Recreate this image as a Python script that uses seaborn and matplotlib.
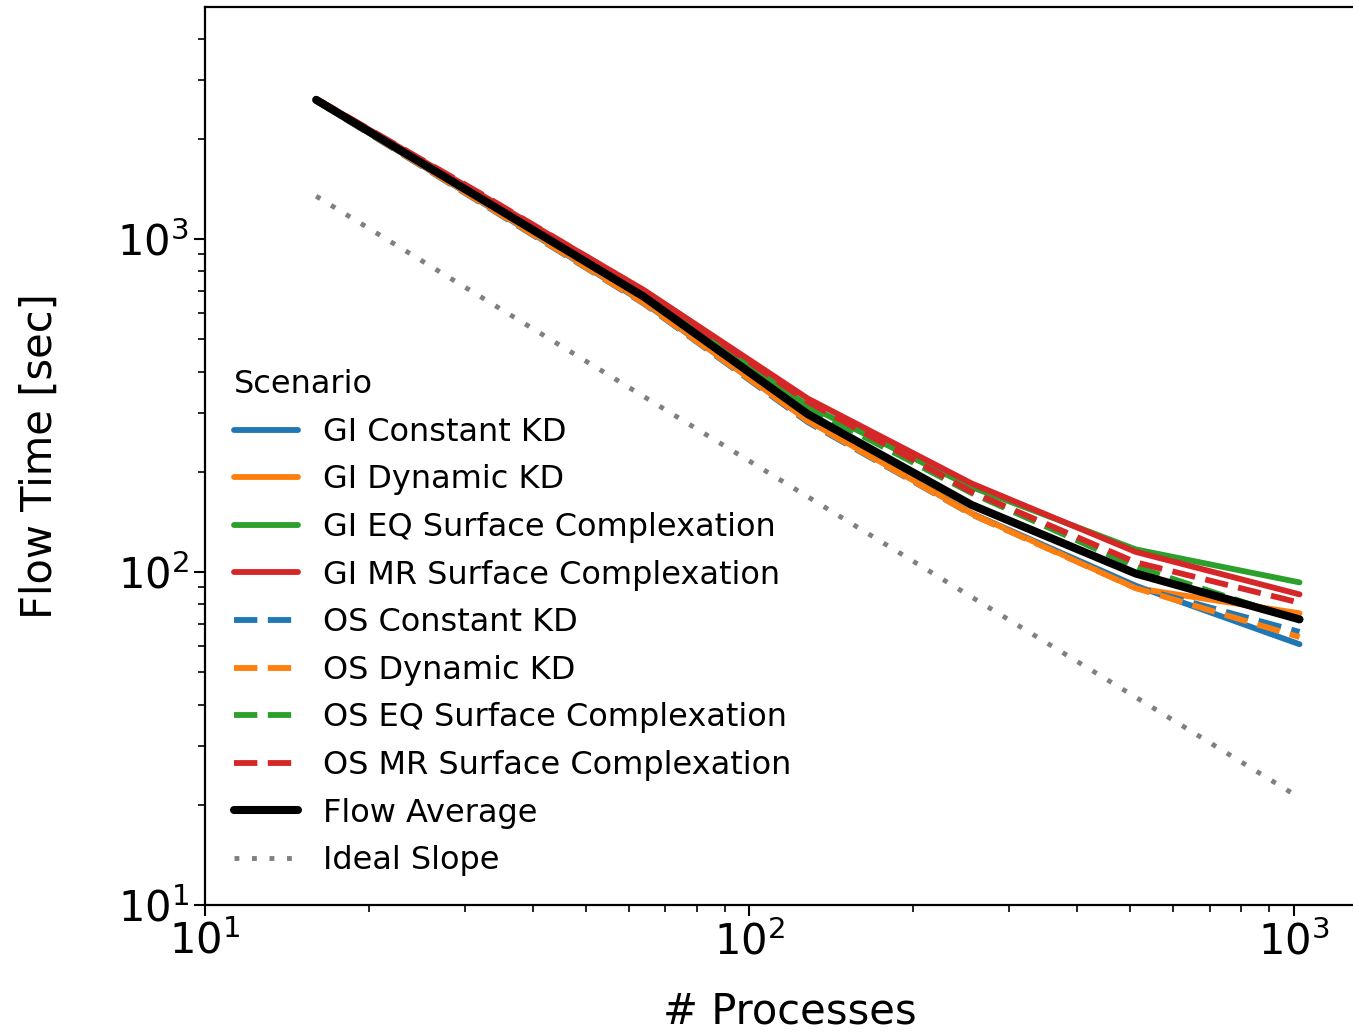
import numpy as np
import pandas as pd
import matplotlib
matplotlib.use("Agg")
import matplotlib.pyplot as plt
import seaborn as sns

# Number of MPI processes used in the strong-scaling runs
processes = [16, 32, 64, 128, 256, 512, 1024]

# Flow solve wall time [sec] for each coupling scenario
gi_constant_kd = [2610, 1300, 645, 286, 150, 91.0, 60.7]
gi_dynamic_kd = [2615, 1305, 648, 285, 150, 89.5, 75.2]
gi_eq_surface = [2630, 1340, 688, 316, 180, 117.0, 93.1]
gi_mr_surface = [2640, 1365, 703, 332, 184.5, 115.0, 85.7]
os_constant_kd = [2605, 1290, 640, 282, 149, 90.0, 66.1]
os_dynamic_kd = [2610, 1295, 642, 284, 149, 89.5, 63.8]
os_eq_surface = [2630, 1345, 690, 312, 172.6, 103.8, 71.5]
os_mr_surface = [2640, 1374, 700, 325, 174, 107.0, 80.9]
flow_average = [2620, 1328, 671, 298, 159, 99.0, 72.1]
ideal_slope = [1346, 673, 336.5, 168.3, 84.1, 42.1, 21.0]

scenarios = [
    "GI Constant KD", "GI Dynamic KD", "GI EQ Surface Complexation",
    "GI MR Surface Complexation", "OS Constant KD", "OS Dynamic KD",
    "OS EQ Surface Complexation", "OS MR Surface Complexation",
    "Flow Average", "Ideal Slope",
]
series = [
    gi_constant_kd, gi_dynamic_kd, gi_eq_surface, gi_mr_surface,
    os_constant_kd, os_dynamic_kd, os_eq_surface, os_mr_surface,
    flow_average, ideal_slope,
]

df = pd.concat(
    [pd.DataFrame({"Processes": processes, "Flow Time": vals, "Scenario": name})
     for name, vals in zip(scenarios, series)],
    ignore_index=True,
)

tab = sns.color_palette("tab10")
palette = {
    "GI Constant KD": tab[0], "GI Dynamic KD": tab[1],
    "GI EQ Surface Complexation": tab[2], "GI MR Surface Complexation": tab[3],
    "OS Constant KD": tab[0], "OS Dynamic KD": tab[1],
    "OS EQ Surface Complexation": tab[2], "OS MR Surface Complexation": tab[3],
    "Flow Average": "black", "Ideal Slope": "gray",
}
dash = (4.0, 1.8)
dashes = {
    "GI Constant KD": "", "GI Dynamic KD": "",
    "GI EQ Surface Complexation": "", "GI MR Surface Complexation": "",
    "OS Constant KD": dash, "OS Dynamic KD": dash,
    "OS EQ Surface Complexation": dash, "OS MR Surface Complexation": dash,
    "Flow Average": "", "Ideal Slope": (1, 2.6),
}
sizes = {name: 4.2 for name in scenarios}
sizes["Flow Average"] = 5.8
sizes["Ideal Slope"] = 3.5

sns.set_style("ticks")
plt.rcParams.update({
    "font.family": ["DejaVu Sans"],
    "text.color": "black",
    "axes.labelcolor": "black",
    "axes.linewidth": 1.6,
    "xtick.major.size": 8, "ytick.major.size": 8,
    "xtick.minor.size": 5, "ytick.minor.size": 5,
    "xtick.major.width": 1.5, "ytick.major.width": 1.5,
    "xtick.minor.width": 1.2, "ytick.minor.width": 1.2,
    "xtick.color": "black", "ytick.color": "black",
    "xtick.labelcolor": "black", "ytick.labelcolor": "black",
    "axes.edgecolor": "black",
})

fig = plt.figure(figsize=(13.53, 10.32), dpi=100)
ax = fig.add_axes([205 / 1353, 127 / 1032, 1170 / 1353, 898 / 1032])

sns.lineplot(
    data=df, x="Processes", y="Flow Time",
    hue="Scenario", style="Scenario", size="Scenario",
    hue_order=scenarios, style_order=scenarios, size_order=scenarios,
    palette=palette, dashes=dashes, sizes=sizes,
    errorbar=None, sort=False, ax=ax,
)

ax.set_xscale("log")
ax.set_yscale("log")
ax.set_xlim(10, 1409)
ax.set_ylim(10, 4980)

ax.set_xlabel("# Processes", fontsize=30, color="black")
ax.set_ylabel("Flow Time [sec]", fontsize=30, color="black")
ax.yaxis.set_label_coords(-0.123, 0.5)
ax.xaxis.set_label_coords(0.5, -0.095)
ax.tick_params(axis="both", which="major", labelsize=30, labelcolor="black")
ax.tick_params(axis="both", which="both", top=False, right=False)

handles, labels = ax.get_legend_handles_labels()
pairs = [(h, l) for h, l in zip(handles, labels) if l in scenarios]
leg = ax.legend(
    [h for h, _ in pairs], [l for _, l in pairs],
    title="Scenario", loc="lower left", frameon=False,
    fontsize=23, title_fontsize=23, alignment="left",
    handlelength=2.0, borderaxespad=0.5, labelspacing=0.52,
)
for t in leg.get_texts():
    t.set_color("black")
leg.get_title().set_color("black")

fig.savefig("out.png", dpi=100)
